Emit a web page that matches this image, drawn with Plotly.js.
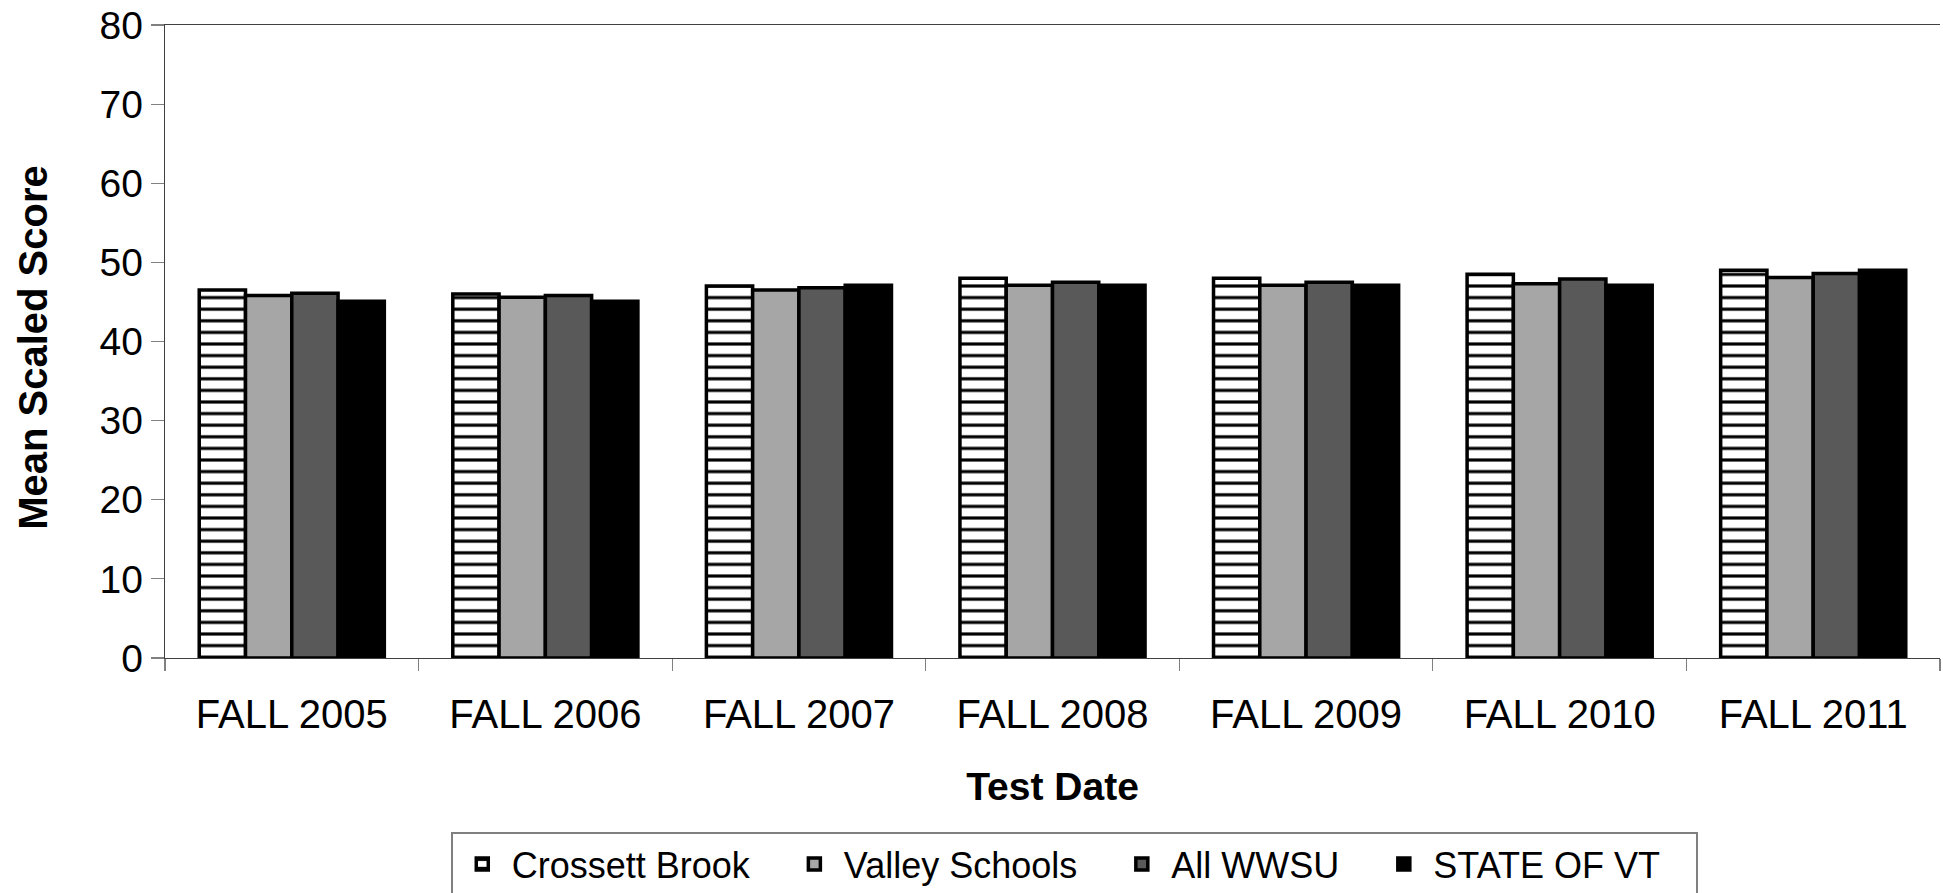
<!DOCTYPE html>
<html>
<head>
<meta charset="utf-8">
<script src="https://cdn.plot.ly/plotly-3.0.1.min.js"></script>
<style>
html,body{margin:0;padding:0;background:#fff;}
#chart{width:1943px;height:893px;}
</style>
</head>
<body>
<div id="chart"></div>
<script>
const categories = ["FALL 2005","FALL 2006","FALL 2007","FALL 2008","FALL 2009","FALL 2010","FALL 2011"];
const crossettBrook = [46.5, 46.0, 47.0, 48.0, 48.0, 48.5, 49.0];
const valleySchools = [45.8, 45.6, 46.5, 47.1, 47.1, 47.3, 48.1];
const allWWSU      = [46.1, 45.8, 46.8, 47.5, 47.5, 47.9, 48.6];
const stateOfVT    = [45.1, 45.1, 47.1, 47.1, 47.1, 47.1, 49.0];
const seriesNames = ["Crossett Brook","Valley Schools","All WWSU","STATE OF VT"];
const yTicks = [0,10,20,30,40,50,60,70,80];
const xTitle = "Test Date";
const yTitle = "Mean Scaled Score";

const FONT = "Liberation Sans, Arial, sans-serif";
const outline = {color:"#000000", width:3.5};
const pad = "\u00a0\u00a0\u00a0";

const traces = [
  {type:"bar", name:seriesNames[0] + pad, x:categories, y:crossettBrook,
   marker:{color:"#ffffff", line:outline,
     pattern:{shape:"-", fgcolor:"#000000", bgcolor:"#ffffff", size:11.6, solidity:0.27, fillmode:"replace"}}},
  {type:"bar", name:seriesNames[1] + pad, x:categories, y:valleySchools,
   marker:{color:"#a6a6a6", line:outline}},
  {type:"bar", name:seriesNames[2] + pad, x:categories, y:allWWSU,
   marker:{color:"#595959", line:outline}},
  {type:"bar", name:seriesNames[3] + pad, x:categories, y:stateOfVT,
   marker:{color:"#000000", line:outline}}
];

const layout = {
  width:1943, height:893,
  margin:{l:165, r:3, t:25, b:235, pad:0, autoexpand:false},
  paper_bgcolor:"#ffffff", plot_bgcolor:"#ffffff",
  font:{family:FONT, color:"#000000", size:38},
  barmode:"group", bargap:0.27, bargroupgap:0,
  showlegend:true,
  legend:{orientation:"h", x:0.161, xanchor:"left", y:-0.2749, yanchor:"top",
    bordercolor:"#808080", borderwidth:2, bgcolor:"#ffffff", itemwidth:49,
    font:{family:FONT, size:36, color:"#000000"}, traceorder:"normal"},
  xaxis:{type:"category", tickson:"boundaries", ticks:"outside", ticklen:12, tickwidth:1.2,
    tickcolor:"#808080", showline:true, linecolor:"#404040", linewidth:1.2, mirror:true,
    showgrid:false, zeroline:false, range:[-0.5, 6.5], ticklabelstandoff:21,
    tickfont:{family:FONT, size:40, color:"#000000"},
    title:{text:"<b>" + xTitle + "</b>", font:{family:FONT, size:39, color:"#000000"}, standoff:37}},
  yaxis:{range:[0,80], tickvals:yTicks, ticks:"outside", ticklen:13, tickwidth:1.2,
    tickcolor:"#808080", showline:true, linecolor:"#404040", linewidth:1.2,
    showgrid:false, zeroline:false, ticklabelstandoff:0,
    tickfont:{family:FONT, size:39, color:"#000000"}},
  annotations:[
    {text:"<b>" + yTitle + "</b>", xref:"paper", yref:"paper", x:0, y:0.49,
     xanchor:"center", yanchor:"middle", xshift:-132, textangle:-90, showarrow:false,
     font:{family:FONT, size:40, color:"#000000"}}
  ]
};

Plotly.newPlot("chart", traces, layout, {displayModeBar:false, staticPlot:true});
</script>
</body>
</html>
